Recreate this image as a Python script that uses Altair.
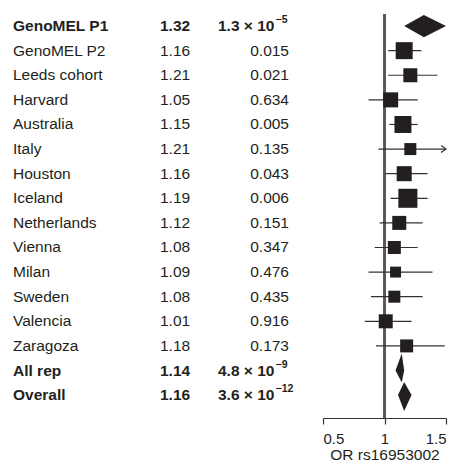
import altair as alt
import pandas as pd

# ---- data ----
studies = ["GenoMEL P1", "GenoMEL P2", "Leeds cohort", "Harvard", "Australia", "Italy",
           "Houston", "Iceland", "Netherlands", "Vienna", "Milan", "Sweden", "Valencia",
           "Zaragoza", "All rep", "Overall"]
odds_ratio = [1.32, 1.16, 1.21, 1.05, 1.15, 1.21, 1.16, 1.19, 1.12, 1.08, 1.09, 1.08, 1.01,
              1.18, 1.14, 1.16]
ci_low = [1.16, 1.03, 1.03, 0.87, 1.04, 0.95, 1.01, 1.05, 0.96, 0.92, 0.87, 0.89, 0.84,
          0.93, 1.09, 1.11]
ci_high = [1.50, 1.30, 1.43, 1.27, 1.27, 1.58, 1.35, 1.35, 1.31, 1.27, 1.39, 1.31, 1.22,
           1.49, 1.16, 1.22]
# p-values: plain text for single studies, mantissa/exponent for combined results
p_plain = ["", "0.015", "0.021", "0.634", "0.005", "0.135", "0.043", "0.006",
           "0.151", "0.347", "0.476", "0.435", "0.916", "0.173", "", ""]
p_mantissa = ["1.3", "", "", "", "", "", "", "", "", "", "", "", "", "", "4.8", "3.6"]
p_exponent = ["−5", "", "", "", "", "", "", "", "", "", "", "", "", "", "−9", "−12"]
weights = [0, 10.6, 7.2, 8.3, 10.6, 5.3, 8.3, 13.3, 7.2, 6.2, 4.4, 5.3, 7.2, 6.2, 0, 0]
is_summary = [True] + [False] * 13 + [True, True]

# ---- styles ----
FONT = "Liberation Sans"
INK = "#231f20"
FS = 15.5
# diamond half-heights (row units, above / below)
DIAMOND_HALF = {"GenoMEL P1": (0.45, 0.45), "All rep": (0.69, 0.49), "Overall": (0.53, 0.65)}

df = pd.DataFrame({
    "study": studies,
    "row": list(range(len(studies))),
    "or": odds_ratio,
    "lo": ci_low,
    "hi": ci_high,
    "p": p_plain,
    "p_base": [f"{m} × 10" if m else "" for m in p_mantissa],
    "p_exp": p_exponent,
    "weight": weights,
    "summary": is_summary,
})
df["or_label"] = [f"{v:.2f}" for v in odds_ratio]

dia_rows = []
for s, r, o, lo, hi, summ in zip(studies, df["row"], odds_ratio, ci_low, ci_high, is_summary):
    if not summ:
        continue
    up, down = DIAMOND_HALF[s]
    dia_rows += [
        {"study": s, "x": lo, "y": r, "y2": r},
        {"study": s, "x": o, "y": r - up, "y2": r + down},
        {"study": s, "x": hi, "y": r, "y2": r},
    ]
dia = pd.DataFrame(dia_rows)

x_scale = alt.Scale(domain=[0.5, 1.5], clamp=True, nice=False, zero=False)
y_scale = alt.Scale(domain=[-0.49, 15.93], reverse=True, nice=False, zero=False)
x_axis = alt.Axis(values=[0.5, 1, 1.5], format="~g", title="OR rs16953002", grid=False,
                  tickSize=6, labelPadding=7, titlePadding=1)

base = alt.Chart(df)
studies_only = base.transform_filter("!datum.summary")
summ_only = base.transform_filter("datum.summary")
Y = alt.Y("row:Q", scale=y_scale, axis=None)

ref_rule = alt.Chart(df).mark_rule(color="#555555", strokeWidth=1.3).encode(
    x=alt.datum(1, scale=x_scale, axis=x_axis)
)

ci = studies_only.mark_rule(color="#333333", strokeWidth=1.2).encode(
    x=alt.X("lo:Q", scale=x_scale, axis=x_axis),
    x2="hi:Q",
    y=Y,
)

squares = studies_only.mark_square(color=INK, opacity=1).encode(
    x=alt.X("or:Q", scale=x_scale, axis=x_axis),
    y=Y,
    size=alt.Size("weight:Q", scale=alt.Scale(domain=[0, 10], range=[0, 272]), legend=None),
)

arrows = studies_only.transform_filter("datum.hi > 1.5").mark_point(
    shape="M-1.4,-1L0,0L-1.4,1", filled=False, size=49, color="#333333", strokeWidth=1.2,
    opacity=1,
).encode(
    x=alt.X("hi:Q", scale=x_scale, axis=x_axis),
    y=Y,
)

diamonds = alt.Chart(dia).mark_area(color=INK, orient="vertical", opacity=1).encode(
    x=alt.X("x:Q", scale=x_scale, axis=x_axis),
    y=alt.Y("y:Q", scale=y_scale, axis=None),
    y2="y2:Q",
    detail="study:N",
)


def txt(src, field, xpos, align, bold, size=FS, dy=0):
    return src.mark_text(
        align=align, baseline="middle", font=FONT, fontSize=size, dy=dy,
        fontWeight="bold" if bold else "normal", color=INK,
    ).encode(x=alt.value(xpos), y=Y, text=f"{field}:N")


texts = [
    txt(studies_only, "study", -310, "left", False),
    txt(summ_only, "study", -310, "left", True),
    txt(studies_only, "or_label", -163, "left", False),
    txt(summ_only, "or_label", -163, "left", True),
    txt(studies_only, "p", -34, "right", False),
    txt(summ_only, "p_base", -105, "left", True),
    txt(summ_only, "p_exp", -47.5, "left", True, size=10.5, dy=-6),
]

chart = alt.layer(ref_rule, ci, squares, diamonds, arrows, *texts).properties(
    width=123, height=404,
    padding={"left": 5, "top": 5, "right": 0, "bottom": 5},
).configure_view(stroke=None).configure_axis(
    labelFont=FONT, titleFont=FONT, labelFontSize=15, titleFontSize=15.5,
    titleFontWeight="normal", labelColor=INK, titleColor=INK,
    domainColor="#333333", tickColor="#333333", domainWidth=1.2, tickWidth=1.2,
)

chart.save("out.html", embed_options={"renderer": "svg", "actions": False})
